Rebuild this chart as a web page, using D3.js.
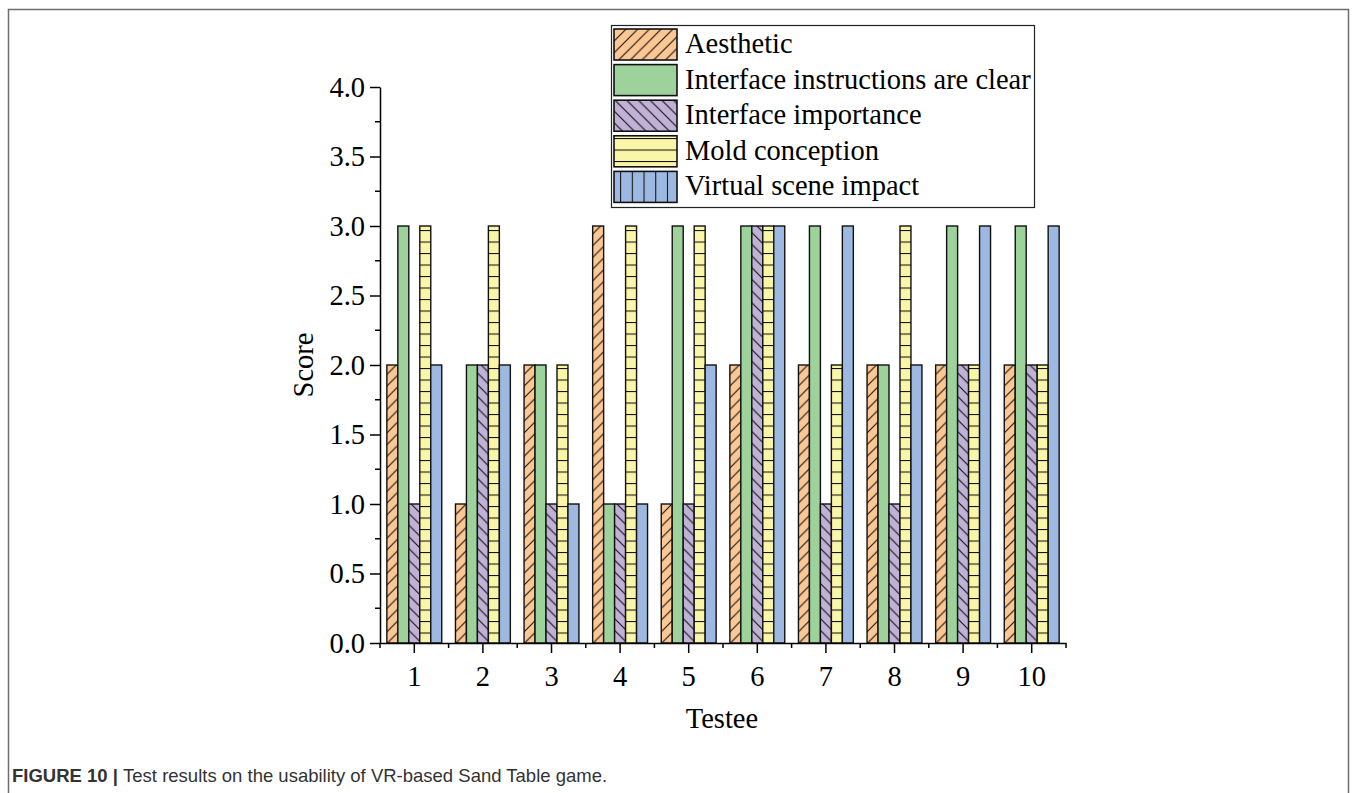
<!DOCTYPE html>
<html>
<head>
<meta charset="utf-8">
<script src="https://cdn.jsdelivr.net/npm/d3@7"></script>
<style>
  body { margin: 0; background: #fff; }
  svg text { font-family: "Liberation Serif", "Times New Roman", serif; }
</style>
</head>
<body>
<div id="chart"></div>
<script>
// Data
const testees = ['1', '2', '3', '4', '5', '6', '7', '8', '9', '10'];
const seriesNames = ['Aesthetic', 'Interface instructions are clear', 'Interface importance', 'Mold conception', 'Virtual scene impact'];
const aesthetic   = [2, 1, 2, 3, 1, 2, 2, 2, 2, 2];
const clear       = [3, 2, 2, 1, 3, 3, 3, 2, 3, 3];
const importance  = [1, 2, 1, 1, 1, 3, 1, 1, 2, 2];
const mold        = [3, 3, 2, 3, 3, 3, 2, 3, 2, 2];
const virtual     = [2, 2, 1, 1, 2, 3, 3, 2, 3, 3];
const yTicks = [0, 0.5, 1, 1.5, 2, 2.5, 3, 3.5, 4];

const seriesValues = [aesthetic, clear, importance, mold, virtual];
const colors = ['#fdc793', '#9dd29b', '#c0b1d7', '#f9f6a7', '#9db9e1'];
const patterns = ['diag', null, 'back', 'horiz', 'vert'];

const width = 1357, height = 793;
const x0 = 380, x1 = 1066, yTop = 87, yBot = 643;
const fs = '28.5px';

const svg = d3.select('#chart').append('svg')
    .attr('width', width)
    .attr('height', height);

// frame of the figure
svg.append('path')
    .attr('d', `M8.5,${height} V9.5 H1348.5 V${height}`)
    .attr('fill', 'none')
    .attr('stroke', '#6e6e6e')
    .attr('stroke-width', 1.5);

// hatch patterns
const defs = svg.append('defs');
function makePattern(id, name, color, size) {
    const p = defs.append('pattern')
        .attr('id', id)
        .attr('patternUnits', 'userSpaceOnUse')
        .attr('width', size).attr('height', size);
    p.append('rect').attr('width', size).attr('height', size).attr('fill', color);
    const ln = p.append('path').attr('stroke', '#111').attr('stroke-width', 1.1).attr('fill', 'none');
    const s = size;
    if (name === 'diag') ln.attr('d', `M0,${s} L${s},0 M-2,2 L2,-2 M${s - 2},${s + 2} L${s + 2},${s - 2}`);
    if (name === 'back') ln.attr('d', `M0,0 L${s},${s} M-2,${s - 2} L2,${s + 2} M${s - 2},-2 L${s + 2},2`);
    if (name === 'horiz') ln.attr('d', `M0,0.5 H${s}`);
    if (name === 'vert') ln.attr('d', `M0.5,0 V${s}`);
}
seriesNames.forEach((s, i) => {
    if (patterns[i]) {
        makePattern('p' + i, patterns[i], colors[i], patterns[i] === 'horiz' ? 11.5 : 11.7);
    }
});
function fillFor(i) { return patterns[i] && patterns[i] !== 'vert' ? `url(#p${i})` : colors[i]; }

// scales
const x = d3.scaleBand().domain(testees).range([x0, x1]).paddingInner(0.2).paddingOuter(0.1);
const xs = d3.scaleBand().domain(seriesNames).range([0, x.bandwidth()]);
const y = d3.scaleLinear().domain([0, 4]).range([yBot, yTop]);

// bars
const rows = testees.map((t, i) => ({ t, vals: seriesValues.map(v => v[i]) }));
const groups = svg.append('g').selectAll('g')
    .data(rows)
    .join('g')
    .attr('transform', d => `translate(${x(d.t)},0)`);
groups.selectAll('rect')
    .data(d => d.vals.map((v, k) => ({ v, k })))
    .join('rect')
    .attr('x', d => xs(seriesNames[d.k]))
    .attr('y', d => y(d.v))
    .attr('width', xs.bandwidth())
    .attr('height', d => yBot - y(d.v))
    .attr('fill', d => fillFor(d.k))
    .attr('stroke', '#111')
    .attr('stroke-width', 1.4);

// y axis
const yAxis = svg.append('g')
    .attr('transform', `translate(${x0},0)`)
    .call(d3.axisLeft(y).tickValues(yTicks).tickFormat(d3.format('.1f')).tickSize(10).tickSizeOuter(0).tickPadding(5));
svg.append('g')
    .attr('transform', `translate(${x0},0)`)
    .selectAll('line')
    .data(yTicks.slice(0, -1).map(d => d + 0.25))
    .join('line')
    .attr('x1', -5).attr('x2', 0)
    .attr('y1', d => y(d)).attr('y2', d => y(d))
    .attr('stroke', '#000').attr('stroke-width', 1.5);

// x axis
const xAxis = svg.append('g')
    .attr('transform', `translate(0,${yBot})`)
    .call(d3.axisBottom(x).tickSize(10).tickSizeOuter(0).tickPadding(13));
const bounds = testees.map(t => x(t) - x.step() * x.paddingInner() / 2).concat([x1]);
bounds[0] = x0;
svg.append('g')
    .attr('transform', `translate(0,${yBot})`)
    .selectAll('line')
    .data(bounds)
    .join('line')
    .attr('x1', d => d).attr('x2', d => d)
    .attr('y1', 0).attr('y2', 5)
    .attr('stroke', '#000').attr('stroke-width', 1.5);

[yAxis, xAxis].forEach(a => {
    a.selectAll('path, line').attr('stroke', '#000').attr('stroke-width', 1.5);
    a.selectAll('text')
        .attr('fill', '#000')
        .style('font-family', '"Liberation Serif", serif')
        .style('font-size', fs);
});

// axis titles
svg.append('text')
    .attr('transform', 'translate(313,365) rotate(-90)')
    .attr('text-anchor', 'middle')
    .style('font-size', fs)
    .text('Score');
svg.append('text')
    .attr('x', 722).attr('y', 728)
    .attr('text-anchor', 'middle')
    .style('font-size', fs)
    .text('Testee');

// legend
const lg = svg.append('g');
lg.append('rect')
    .attr('x', 611.5).attr('y', 25.5)
    .attr('width', 423).attr('height', 182)
    .attr('fill', '#fff').attr('stroke', '#222').attr('stroke-width', 1.2);
seriesNames.forEach((s, i) => {
    const ry = 29 + i * 35.6;
    if (patterns[i] === 'vert') {
        makePattern('lv' + i, 'vert', colors[i], 11.7);
    }
    lg.append('rect')
        .attr('x', 614).attr('y', ry)
        .attr('width', 63).attr('height', 31)
        .attr('fill', patterns[i] === 'vert' ? `url(#lv${i})` : fillFor(i))
        .attr('stroke', '#111').attr('stroke-width', 1.6);
    lg.append('text')
        .attr('x', 685).attr('y', ry + 24)
        .style('font-size', fs)
        .text(s);
});

// caption
const cap = svg.append('text')
    .attr('x', 12).attr('y', 782)
    .style('font-family', '"Liberation Sans", Arial, sans-serif')
    .style('font-size', '18.5px')
    .attr('fill', '#333');
cap.append('tspan').style('font-family', '"Liberation Sans", Arial, sans-serif').attr('font-weight', 'bold').text('FIGURE 10 | ');
cap.append('tspan').style('font-family', '"Liberation Sans", Arial, sans-serif').text('Test results on the usability of VR-based Sand Table game.');
</script>
</body>
</html>
